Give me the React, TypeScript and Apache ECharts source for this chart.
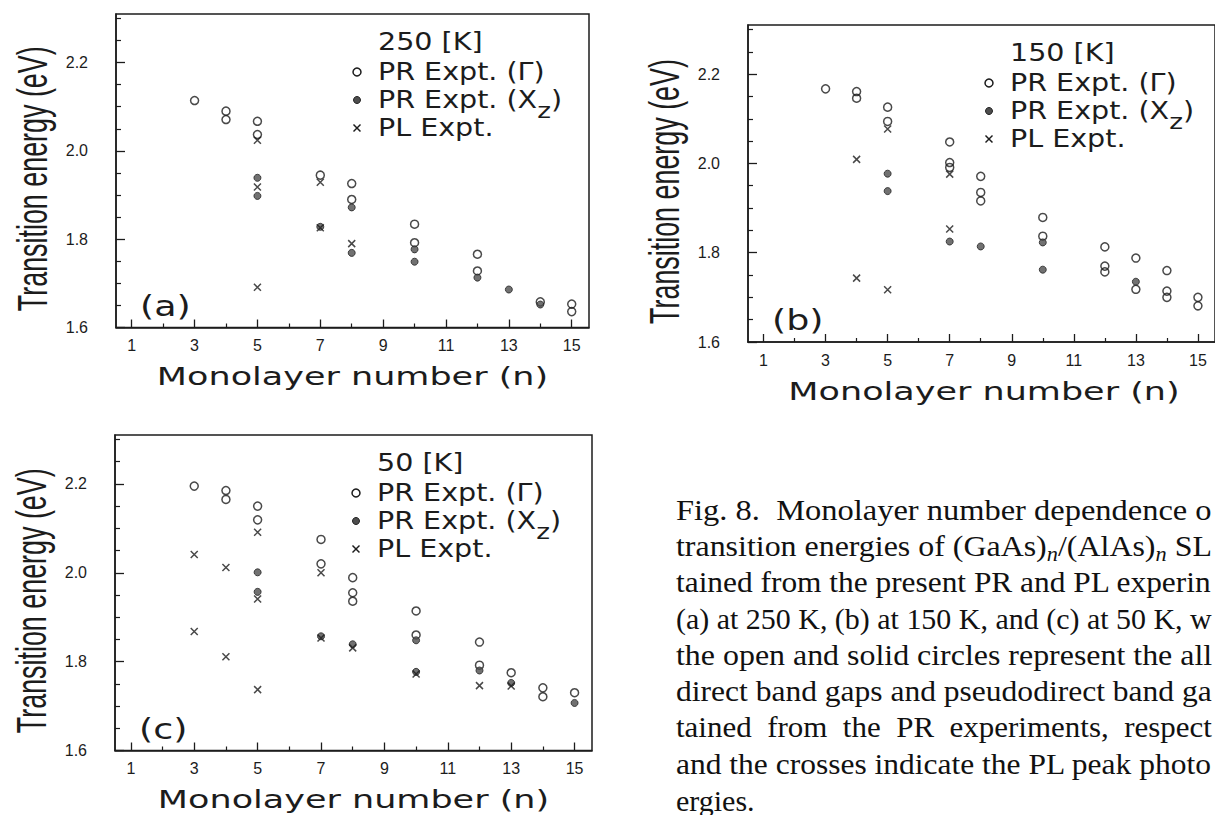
import React, { useEffect, useRef } from "react";
import * as echarts from "echarts";

type Pt = [number, number];

// ---- Transition energies (eV) vs monolayer number n ----
// 250 K
const gamma250: Pt[] = [[3, 2.114], [4, 2.090], [4, 2.071], [5, 2.067], [5, 2.037], [7, 1.945], [8, 1.926], [8, 1.890], [10, 1.834], [10, 1.792], [12, 1.766], [12, 1.728], [14, 1.658], [15, 1.653], [15, 1.636]];
const xz250: Pt[] = [[5, 1.939], [5, 1.898], [7, 1.828], [8, 1.872], [8, 1.769], [10, 1.777], [10, 1.749], [12, 1.713], [13, 1.686], [14, 1.652]];
const pl250: Pt[] = [[5, 2.024], [5, 1.918], [5, 1.691], [7, 1.929], [7, 1.826], [8, 1.790]];

// 150 K
const gamma150: Pt[] = [[3, 2.167], [4, 2.161], [4, 2.146], [5, 2.126], [5, 2.094], [7, 2.048], [7, 2.002], [7, 1.991], [8, 1.971], [8, 1.935], [8, 1.916], [10, 1.879], [10, 1.837], [12, 1.813], [12, 1.770], [12, 1.757], [13, 1.788], [13, 1.718], [14, 1.760], [14, 1.714], [14, 1.700], [15, 1.700], [15, 1.681]];
const xz150: Pt[] = [[5, 1.977], [5, 1.938], [7, 1.825], [8, 1.814], [10, 1.823], [10, 1.762], [13, 1.735]];
const pl150: Pt[] = [[4, 2.009], [4, 1.743], [5, 2.077], [5, 1.717], [7, 1.976], [7, 1.853]];

// 50 K
const gamma50: Pt[] = [[3, 2.195], [4, 2.185], [4, 2.165], [5, 2.150], [5, 2.119], [7, 2.075], [7, 2.020], [8, 1.989], [8, 1.955], [8, 1.936], [10, 1.914], [10, 1.860], [12, 1.844], [12, 1.792], [13, 1.775], [14, 1.741], [14, 1.721], [15, 1.730]];
const xz50: Pt[] = [[5, 2.001], [5, 1.957], [7, 1.857], [8, 1.839], [10, 1.848], [10, 1.777], [12, 1.780], [13, 1.752], [15, 1.707]];
const pl50: Pt[] = [[3, 2.041], [3, 1.868], [4, 2.012], [4, 1.811], [5, 2.091], [5, 1.941], [5, 1.737], [7, 2.000], [7, 1.853], [8, 1.831], [10, 1.772], [12, 1.746], [13, 1.745]];

// ---- Axis ticks ----
const xMajor = [1, 3, 5, 7, 9, 11, 13, 15];
const xMinor = [2, 4, 6, 8, 10, 12, 14];
const yMajor = [1.6, 1.8, 2.0, 2.2];
const yMinor = [1.65, 1.7, 1.75, 1.85, 1.9, 1.95, 2.05, 2.1, 2.15, 2.25, 2.3];
const X_MIN = 0.5;
const X_MAX = 15.55;
const Y_MIN = 1.6;
const Y_MAX = 2.31;

// ---- Texts ----
const legendNames = ["PR Expt. (\u0393)", "PR Expt. (X{z|z})", "PL Expt."];
const yTitle = "Transition energy (eV)";
const xTitle = "Monolayer number (n)";
const captionLines = [
  "Fig. 8.  Monolayer number dependence o",
  "transition energies of (GaAs){n|n}/(AlAs){n|n} SL",
  "tained from the present PR and PL experin",
  "(a) at 250 K, (b) at 150 K, and (c) at 50 K, w",
  "the open and solid circles represent the all",
  "direct band gaps and pseudodirect band ga",
  "tained  from  the  PR  experiments,  respect",
  "and the crosses indicate the PL peak photo",
  "ergies.",
];

const panels = [
  { left: 116, top: 14, width: 473, height: 313.5, temp: "250 [K]", tag: "(a)", gamma: gamma250, xz: xz250, pl: pl250 },
  { left: 748, top: 25, width: 472, height: 317, temp: "150 [K]", tag: "(b)", gamma: gamma150, xz: xz150, pl: pl150 },
  { left: 115, top: 435, width: 477, height: 315.5, temp: "50 [K]", tag: "(c)", gamma: gamma50, xz: xz50, pl: pl50 },
];

const INK = "#1c1c1c";
const FONT_SANS = '"DejaVu Sans", sans-serif';
const FONT_TICK = '"Liberation Sans", Arial, sans-serif';
const FONT_TITLE = '"Liberation Sans", Arial, sans-serif';
const FONT_SERIF = '"Liberation Serif", "Times New Roman", serif';
const CROSS = "path://M0,0L10,10M10,0L0,10";

const CAPTION_X = 676;
const CAPTION_Y0 = 510;
const CAPTION_DY = 36.25;
const CAPTION_RIGHT = 1212;

function measureCaption(ctx: CanvasRenderingContext2D, line: string): number {
  const parts = line.split("{n|n}");
  ctx.font = `30px ${FONT_SERIF}`;
  let w = parts.reduce((s, p) => s + ctx.measureText(p).width, 0);
  ctx.font = `italic 21px ${FONT_SERIF}`;
  w += (parts.length - 1) * ctx.measureText("n").width;
  return w;
}

function buildOption() {
  const xAxis: any[] = [];
  const yAxis: any[] = [];
  const series: any[] = [];
  const graphics: any[] = [];

  panels.forEach((p, i) => {
    const common = { type: "value", gridIndex: i, splitLine: { show: false } };
    xAxis.push({
      ...common, min: X_MIN, max: X_MAX, position: "bottom",
      axisLine: { show: true, onZero: false, lineStyle: { color: INK, width: 1.5 } },
      axisTick: { show: true, inside: true, length: 8, customValues: xMajor, lineStyle: { color: INK, width: 1.3 } },
      axisLabel: { customValues: xMajor, fontFamily: FONT_TICK, fontSize: 16, color: INK, margin: 10 },
    });
    xAxis.push({
      ...common, min: X_MIN, max: X_MAX, position: "bottom",
      axisLine: { show: false, onZero: false },
      axisTick: { show: true, inside: true, length: 4, customValues: xMinor, lineStyle: { color: INK, width: 1.2 } },
      axisLabel: { show: false },
    });
    yAxis.push({
      ...common, min: Y_MIN, max: Y_MAX, position: "left",
      axisLine: { show: true, onZero: false, lineStyle: { color: INK, width: 1.5 } },
      axisTick: { show: true, inside: true, length: 9, customValues: yMajor, lineStyle: { color: INK, width: 1.3 } },
      axisLabel: { customValues: yMajor, fontFamily: FONT_TICK, fontSize: 16, color: INK, margin: 28, formatter: (v: number) => v.toFixed(1) },
    });
    yAxis.push({
      ...common, min: Y_MIN, max: Y_MAX, position: "left",
      axisLine: { show: false, onZero: false },
      axisTick: { show: true, inside: true, length: 5, customValues: yMinor, lineStyle: { color: INK, width: 1.2 } },
      axisLabel: { show: false },
    });

    const axes = { xAxisIndex: 2 * i, yAxisIndex: 2 * i };
    series.push({
      type: "scatter", ...axes, name: legendNames[0], data: p.gamma, symbol: "circle", symbolSize: 8, silent: true,
      itemStyle: { color: "rgba(0,0,0,0)", borderColor: INK, borderWidth: 1.5 },
    });
    series.push({
      type: "scatter", ...axes, name: legendNames[1], data: p.xz, symbol: "circle", symbolSize: 7, silent: true,
      itemStyle: { color: "#4d4d4d", borderColor: "#222", borderWidth: 1 },
    });
    series.push({
      type: "scatter", ...axes, name: legendNames[2], data: p.pl, symbol: CROSS, symbolSize: 7, silent: true,
      itemStyle: { color: INK, borderColor: INK, borderWidth: 1.5 },
    });

    // legend block
    const symX = p.left + 241;
    const txtX = p.left + 262;
    const rowY = [p.top + 58, p.top + 86, p.top + 114];
    const legendText = (y: number, text: string) => ({
      type: "text", x: txtX, y, scaleX: 1.19, silent: true,
      style: {
        text, fontFamily: FONT_SANS, fontSize: 24, lineHeight: 43, fill: INK, align: "left", verticalAlign: "middle",
        rich: { z: { fontFamily: FONT_SANS, fontSize: 22, lineHeight: 22, verticalAlign: "bottom", fill: INK } },
      },
    });
    graphics.push(legendText(p.top + 28, p.temp));
    legendNames.forEach((name, k) => graphics.push(legendText(rowY[k], name)));
    graphics.push({ type: "circle", silent: true, shape: { cx: symX, cy: rowY[0], r: 4 }, style: { fill: "none", stroke: INK, lineWidth: 1.5 } });
    graphics.push({ type: "circle", silent: true, shape: { cx: symX, cy: rowY[1], r: 3.5 }, style: { fill: "#4d4d4d", stroke: "#222", lineWidth: 1 } });
    graphics.push({ type: "line", silent: true, shape: { x1: symX - 3.5, y1: rowY[2] - 3.5, x2: symX + 3.5, y2: rowY[2] + 3.5 }, style: { stroke: INK, lineWidth: 1.5 } });
    graphics.push({ type: "line", silent: true, shape: { x1: symX + 3.5, y1: rowY[2] - 3.5, x2: symX - 3.5, y2: rowY[2] + 3.5 }, style: { stroke: INK, lineWidth: 1.5 } });

    // panel tag
    graphics.push({
      type: "text", x: p.left + 24, y: p.top + p.height - 21, scaleX: 1.3, silent: true,
      style: { text: p.tag, fontFamily: FONT_SANS, fontSize: 28, fill: INK, align: "left", verticalAlign: "middle" },
    });
    // axis titles
    graphics.push({
      type: "text", x: p.left + p.width / 2, y: p.top + p.height + 49, scaleX: 1.4, silent: true,
      style: { text: xTitle, fontFamily: FONT_SANS, fontSize: 25, fill: INK, align: "center", verticalAlign: "middle" },
    });
    graphics.push({
      type: "text", x: p.left - 84, y: p.top + p.height / 2 + 8, rotation: Math.PI / 2, scaleX: 0.64, silent: true,
      style: { text: yTitle, fontFamily: FONT_TITLE, fontSize: 42, fill: INK, align: "center", verticalAlign: "middle" },
    });
  });

  // caption
  const ctx = document.createElement("canvas").getContext("2d") as CanvasRenderingContext2D;
  captionLines.forEach((line, k) => {
    const last = k === captionLines.length - 1;
    const w = measureCaption(ctx, line);
    const sx = last ? 1 : (CAPTION_RIGHT - CAPTION_X) / w;
    graphics.push({
      type: "text", x: CAPTION_X, y: CAPTION_Y0 + k * CAPTION_DY, scaleX: sx, silent: true,
      style: {
        text: line, fontFamily: FONT_SERIF, fontSize: 30, lineHeight: 37, fill: "#111", align: "left", verticalAlign: "middle",
        rich: { n: { fontFamily: FONT_SERIF, fontSize: 21, fontStyle: "italic", lineHeight: 21, verticalAlign: "bottom", fill: "#111" } },
      },
    });
  });

  return {
    animation: false,
    backgroundColor: "#ffffff",
    grid: panels.map((p) => ({
      left: p.left, top: p.top, width: p.width, height: p.height,
      show: true, borderColor: INK, borderWidth: 1.5, backgroundColor: "transparent",
    })),
    xAxis,
    yAxis,
    series,
    graphic: { elements: graphics },
  };
}

export default function App() {
  const ref = useRef<HTMLDivElement>(null);
  useEffect(() => {
    if (!ref.current) return;
    const chart = echarts.init(ref.current, undefined, { renderer: "svg" });
    chart.setOption(buildOption() as any);
    return () => chart.dispose();
  }, []);
  return (
    <div
      ref={ref}
      style={{ position: "absolute", left: 0, top: 0, width: 1215, height: 815, background: "#fff" }}
    />
  );
}
